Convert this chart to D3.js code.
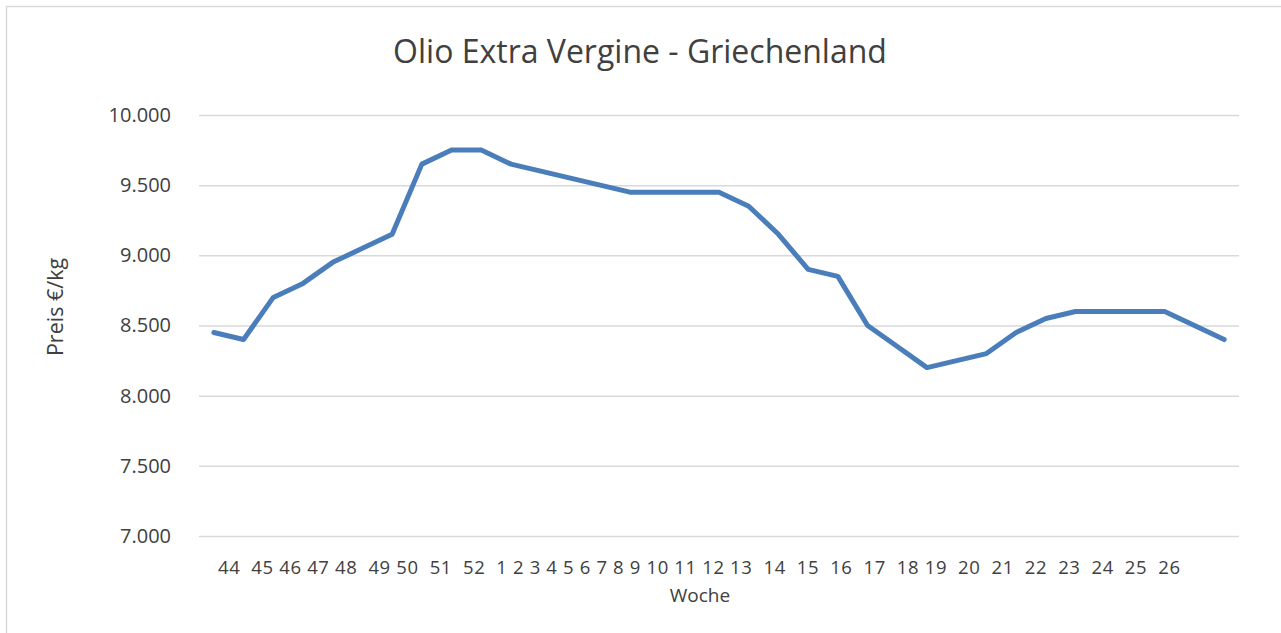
<!DOCTYPE html>
<html>
<head>
<meta charset="utf-8">
<script src="https://cdn.jsdelivr.net/npm/d3@7"></script>
<style>
  body { margin: 0; background: #fff; }
  text { font-family: "Open Sans", sans-serif; fill: #404040; }
</style>
</head>
<body>
<svg id="chart" width="1281" height="633"></svg>
<script>
// week labels (KW 44 .. 52, then 1 .. 26)
const weekLabels = ["44","45","46","47","48","49","50","51","52",
  "1","2","3","4","5","6","7","8","9","10","11","12","13","14","15","16","17",
  "18","19","20","21","22","23","24","25","26"];
// price in €/kg
const prices = [8450, 8400, 8700, 8800, 8950, 9050, 9150, 9650, 9750, 9750,
  9650, 9600, 9550, 9500, 9450, 9450, 9450, 9450, 9350, 9150,
  8900, 8850, 8500, 8350, 8200, 8250, 8300, 8450, 8550, 8600,
  8600, 8600, 8600, 8500, 8400];
const yTicks = [7000, 7500, 8000, 8500, 9000, 9500, 10000];
// labels that are followed by a wider gap in the axis text
const wideGapAfter = ["44","48","50","51","52","13","14","15","16","17","19","20","21","22","23","24","25"];

const svg = d3.select("#chart");
const plot = { left: 199, right: 1239, top: 115, bottom: 536 };

const de = d3.formatLocale({ decimal: ",", thousands: ".", grouping: [3], currency: ["", "€"] });
const fmt = de.format(",");

// outer border (only top and left edges are visible)
svg.append("rect")
  .attr("x", 6.5).attr("y", 6.5)
  .attr("width", 1400).attr("height", 800)
  .attr("fill", "#fff")
  .attr("stroke", "#d9d9d9").attr("stroke-width", 1.5);

const x = d3.scaleBand().domain(d3.range(weekLabels.length)).range([plot.left, plot.right]);
const y = d3.scaleLinear().domain([7000, 10000]).range([plot.bottom, plot.top]);

// gridlines + y tick labels
const yAxis = d3.axisLeft(y).tickValues(yTicks).tickFormat(fmt)
  .tickSize(-(plot.right - plot.left)).tickPadding(28);
const gy = svg.append("g").attr("transform", "translate(" + plot.left + ",0)").call(yAxis);
gy.select(".domain").remove();
gy.selectAll(".tick line").attr("stroke", "#d9d9d9").attr("stroke-width", 1.5);
gy.selectAll(".tick text")
  .attr("fill", "#404040")
  .style("font-family", "'Open Sans', sans-serif")
  .style("font-size", "20px");

// line
const line = d3.line()
  .x((d, i) => x(i) + x.bandwidth() / 2)
  .y(d => y(d));

svg.append("path")
  .datum(prices)
  .attr("d", line)
  .attr("fill", "none")
  .attr("stroke", "#4a7ebb")
  .attr("stroke-width", 5)
  .attr("stroke-linejoin", "round")
  .attr("stroke-linecap", "round");

// x axis text (one long label string as in the source)
let xText = "";
weekLabels.forEach((w, i) => {
  xText += w;
  if (i < weekLabels.length - 1) xText += wideGapAfter.includes(w) ? "  " : " ";
});
svg.append("text")
  .attr("x", 218).attr("y", 574)
  .attr("xml:space", "preserve")
  .style("white-space", "pre")
  .attr("textLength", 962)
  .attr("lengthAdjust", "spacing")
  .style("font-size", "18.5px")
  .text(xText);

// title
svg.append("text")
  .attr("x", 640).attr("y", 63)
  .attr("text-anchor", "middle")
  .style("font-size", "32px")
  .text("Olio Extra Vergine - Griechenland");

// axis titles
svg.append("text")
  .attr("transform", "translate(63,307) rotate(-90)")
  .attr("text-anchor", "middle")
  .style("font-size", "21.5px")
  .text("Preis €/kg");

svg.append("text")
  .attr("x", 700).attr("y", 602)
  .attr("text-anchor", "middle")
  .style("font-size", "19px")
  .text("Woche");
</script>
</body>
</html>
